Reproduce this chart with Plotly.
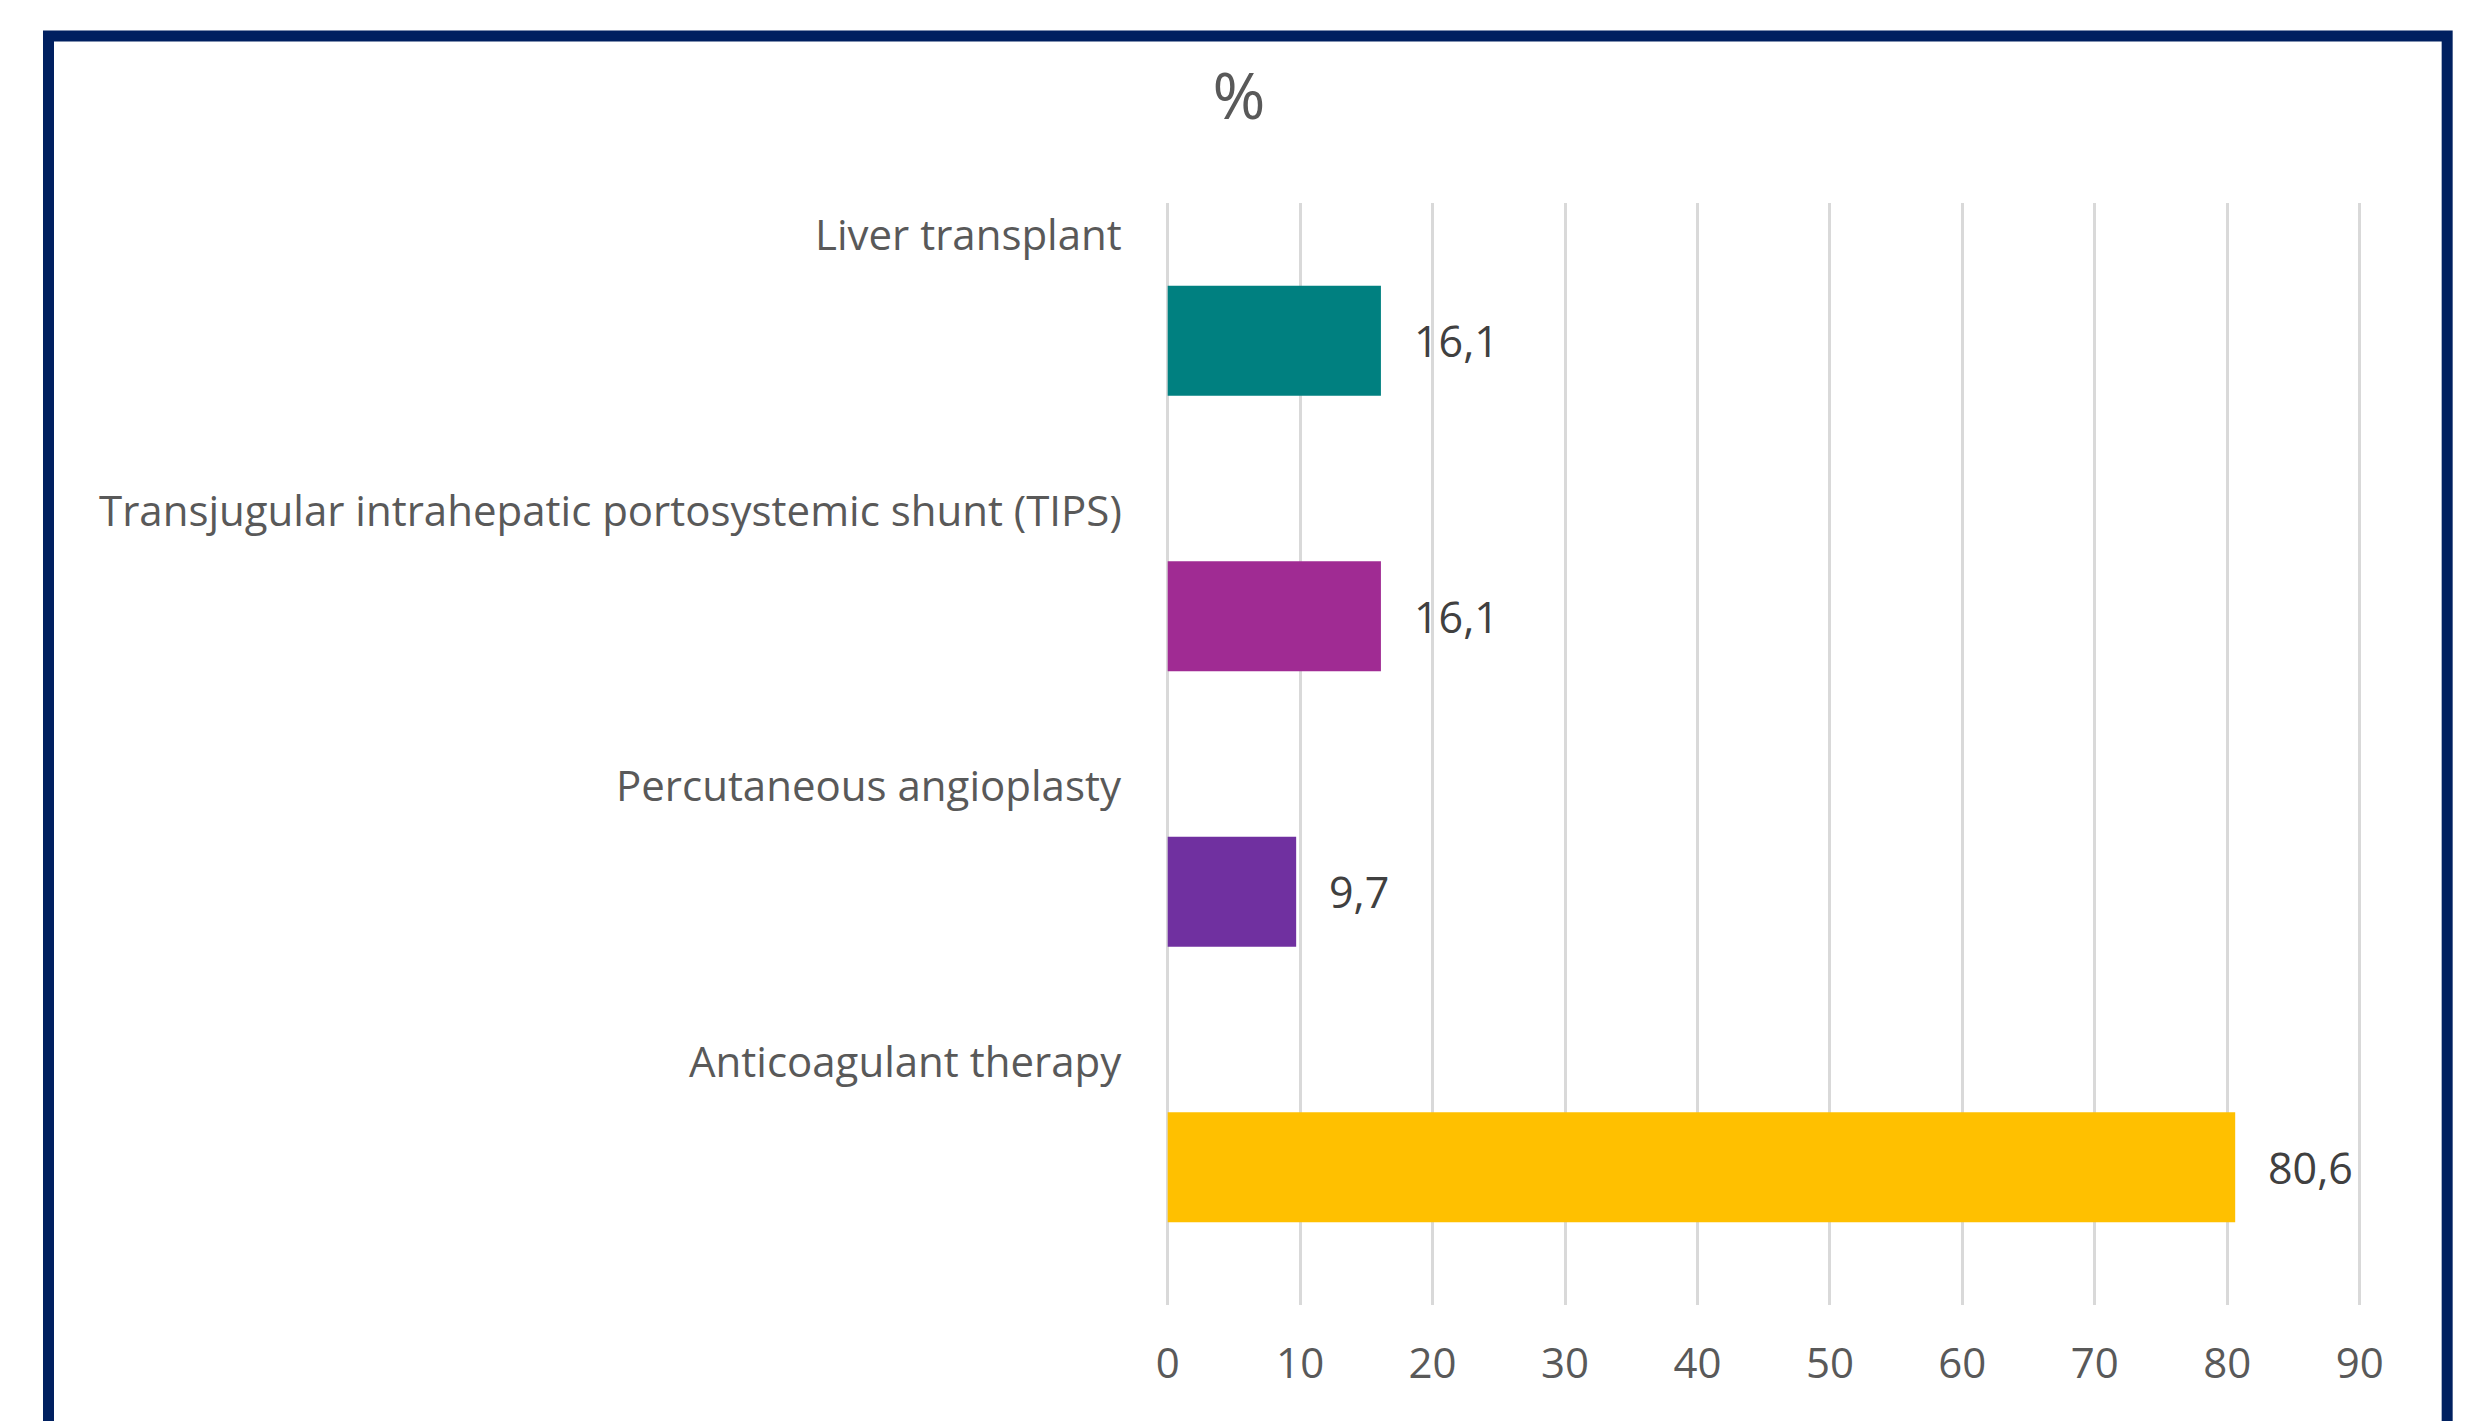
import plotly.graph_objects as go

categories = ["Liver transplant",
              "Transjugular intrahepatic portosystemic shunt (TIPS)",
              "Percutaneous angioplasty",
              "Anticoagulant therapy"]
values = [16.1, 16.1, 9.7, 80.6]
value_labels = ["16,1", "16,1", "9,7", "80,6"]
bar_colors = ["#008080", "#A02B93", "#7030A0", "#FFC000"]
tick_vals = [0, 10, 20, 30, 40, 50, 60, 70, 80, 90]
title_text = "%"

W, H = 2482, 1421
FONT = "Open Sans"
GRAY = "#595959"

fig = go.Figure()
fig.add_trace(go.Bar(
    x=values, y=categories, orientation="h",
    marker=dict(color=bar_colors, line=dict(width=0)),
    hoverinfo="skip",
))

annotations = []
for cat in categories:
    annotations.append(dict(
        x=1129 / W, xref="paper", y=cat, yref="y",
        text=cat, showarrow=False, xanchor="right", yanchor="middle",
        yshift=107, font=dict(family=FONT, size=42, color=GRAY)))
for cat, v, lab in zip(categories, values, value_labels):
    annotations.append(dict(
        x=v, xref="x", y=cat, yref="y",
        text=lab, showarrow=False, xanchor="left", yanchor="middle",
        xshift=31, font=dict(family=FONT, size=43, color="#404040")))

fig.update_layout(
    autosize=True,
    margin=dict(l=0, r=0, t=0, b=0),
    paper_bgcolor="white", plot_bgcolor="white",
    showlegend=False,
    bargap=0.6,
    title=dict(text=title_text, x=1245 / W, xref="paper", xanchor="center",
               y=1 - 97 / H, yanchor="middle",
               font=dict(family=FONT, size=64, color=GRAY)),
    xaxis=dict(
        domain=[1170.8 / W, 2382.4 / W],
        range=[-0.15, 90.15],
        tickvals=tick_vals,
        ticktext=[str(t) for t in tick_vals],
        showgrid=True, gridcolor="#D9D9D9", gridwidth=3,
        zeroline=False, showline=False,
        ticks="outside", ticklen=22, tickcolor="rgba(0,0,0,0)",
        tickangle=0,
        tickfont=dict(family=FONT, size=42, color=GRAY),
        fixedrange=True,
    ),
    yaxis=dict(
        domain=[1 - 1305 / H, 1 - 203 / H],
        categoryorder="array", categoryarray=categories,
        autorange="reversed",
        showticklabels=False, showgrid=False, zeroline=False, showline=False,
        ticks="", fixedrange=True,
    ),
    annotations=annotations,
    shapes=[dict(type="rect", xref="paper", yref="paper",
                 x0=39 / W, x1=2469 / W, y0=-0.05, y1=1 - 36 / H,
                 line=dict(color="#002060", width=11), fillcolor="rgba(0,0,0,0)",
                 layer="above")],
)

fig.write_html(
    "out.html",
    config={"displayModeBar": False, "responsive": True},
    default_width="100vw",
    default_height="100vh",
    post_script=(
        "document.documentElement.style.margin='0';"
        "document.body.style.margin='0';document.body.style.padding='0';"
        "document.body.style.overflow='hidden';"
        "var gd=document.getElementById('{plot_id}');"
        "Plotly.Plots.resize(gd);"
    ),
)
